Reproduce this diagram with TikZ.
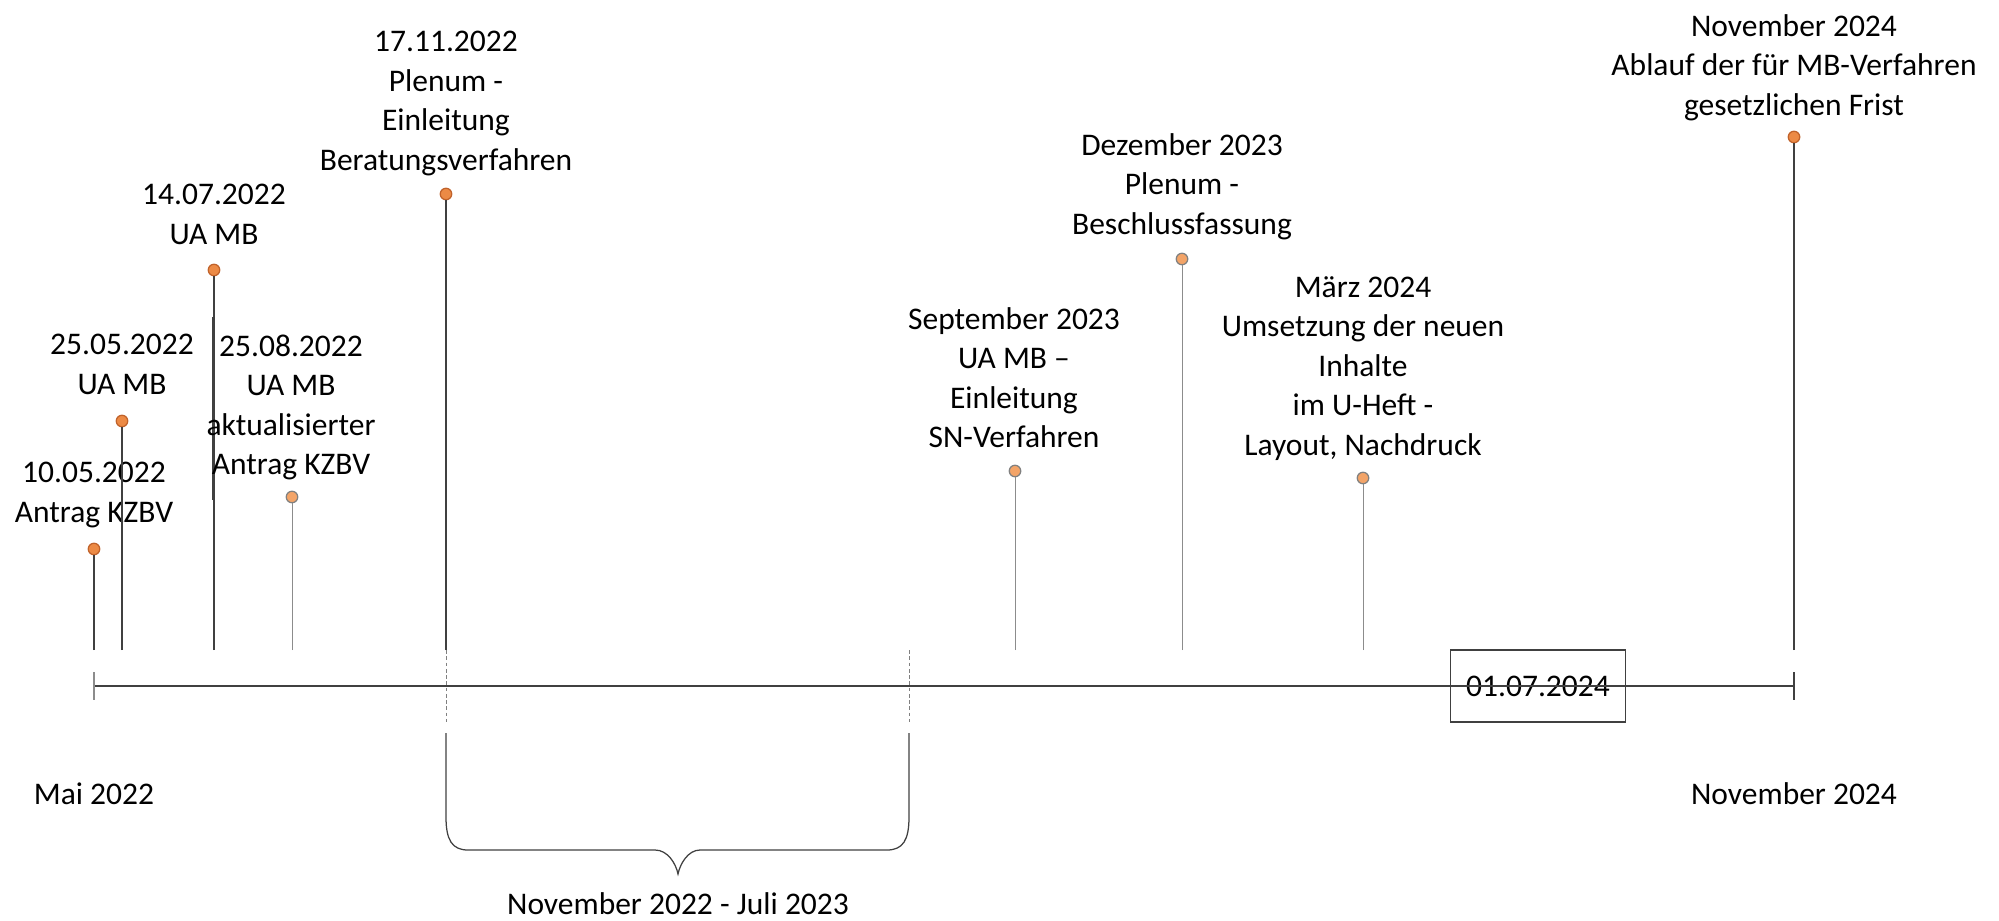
\documentclass[tikz,border=0pt]{standalone}
\usepackage{fontspec}
\setmainfont{Carlito}
\usepackage{xcolor}
\definecolor{stemdark}{HTML}{404040}
\definecolor{stemlight}{HTML}{8C8C8C}
\definecolor{dotfill}{HTML}{EC8A45}
\definecolor{dotlight}{HTML}{F3A468}
\definecolor{dotrim}{HTML}{C0622A}

\tikzset{
	dot/.style={circle, draw=dotrim, fill=dotfill, line width=0.5pt, minimum size=4.6pt, inner sep=0pt},
	dotpale/.style={dot, draw=gray, fill=dotlight},
	stemthick/.style={stemdark, line width=0.8pt},
	stemthin/.style={stemlight, line width=0.4pt},
	lbl/.style={align=center, anchor=north, inner sep=0pt},
	guide/.style={gray, line width=0.4pt, dash pattern=on 1.5pt off 1pt}
}

\begin{document}
\begin{tikzpicture}[x=0.4pt, y=-0.4pt, font=\fontsize{12.6}{15.8}\selectfont]
	\useasboundingbox (0,0) rectangle (1999,920);

	% axis
	\coordinate (start) at (94,686);
	\coordinate (end) at (1794,686);
	\draw[stemdark, line width=0.6pt] (start) -- (end);
	\draw[stemlight, line width=0.5pt] (94,672) -- (94,700);
	\draw[stemdark, line width=0.6pt] (1794,672) -- (1794,700);
	\node[draw=stemdark, line width=0.5pt, minimum width=70pt, minimum height=28.8pt, inner sep=0pt] (datebox) at (1538,686) {01.07.2024};
	\draw[stemdark, line width=0.6pt] (datebox.west) -- (datebox.east);

	% events
	\node[dot] (d1) at (94,549) {};
	\coordinate (b1) at (94,650);
	\draw[stemthick] (b1) -- (d1);
	\node[lbl] (t1) at (94,462) {10.05.2022\\Antrag KZBV};

	\node[dot] (d2) at (122,421) {};
	\coordinate (b2) at (122,650);
	\draw[stemthick] (b2) -- (d2);
	\node[lbl] (t2) at (122,334) {25.05.2022\\UA MB};

	\node[dot] (d3) at (214,270) {};
	\coordinate (b3) at (214,650);
	\draw[stemthick] (b3) -- (d3);
	\draw[stemthick] (212.5,317) -- (212.5,500);
	\node[lbl] (t3) at (214,184) {14.07.2022\\UA MB};

	\node[dotpale] (d4) at (292,497) {};
	\coordinate (b4) at (292,650);
	\draw[stemthin] (b4) -- (d4);
	\node[lbl] (t4) at (291,334) {25.08.2022\\UA MB\\aktualisierter\\Antrag KZBV};

	\node[dot] (d5) at (446,194) {};
	\coordinate (b5) at (446,650);
	\draw[stemthick] (b5) -- (d5);
	\node[lbl] (t5) at (446,31) {17.11.2022\\Plenum -\\Einleitung\\Beratungsverfahren};

	\node[dotpale] (d7) at (1015,471) {};
	\coordinate (b7) at (1015,650);
	\draw[stemthin] (b7) -- (d7);
	\node[lbl] (t7) at (1014,307) {September 2023\\UA MB –\\Einleitung\\SN-Verfahren};

	\node[dotpale] (d8) at (1182,259) {};
	\coordinate (b8) at (1182,650);
	\draw[stemthin] (b8) -- (d8);
	\node[lbl] (t8) at (1182,133) {Dezember 2023\\Plenum -\\Beschlussfassung};

	\node[dotpale] (d9) at (1363,478) {};
	\coordinate (b9) at (1363,650);
	\draw[stemthin] (b9) -- (d9);
	\node[lbl] (t9) at (1363,276) {März 2024\\Umsetzung der neuen\\Inhalte\\im U-Heft -\\Layout, Nachdruck};

	\node[dot] (d10) at (1794,137) {};
	\coordinate (b10) at (1794,650);
	\draw[stemthick] (b10) -- (d10);
	\node[lbl] (t10) at (1794,14) {November 2024\\Ablauf der für MB-Verfahren\\gesetzlichen Frist};

	% period
	\coordinate (g1) at (446,722);
	\coordinate (g2) at (909,722);
	\draw[guide] (b5) -- (g1);
	\draw[guide] (909,650) -- (g2);
	\draw[stemdark, line width=0.5pt] (446,733) -- (446,817) .. controls (446,840) and (452,850) .. (468,850)
		-- (655,850) .. controls (668,850) and (676,864) .. (678,874)
		.. controls (680,864) and (688,850) .. (700,850) -- (887,850)
		.. controls (903,850) and (909,840) .. (909,817) -- (909,733);
	\node[lbl] (span) at (678,892) {November 2022 - Juli 2023};

	\node[lbl] (from) at (94,782) {Mai 2022};
	\node[lbl] (to) at (1794,782) {November 2024};
\end{tikzpicture}
\end{document}
